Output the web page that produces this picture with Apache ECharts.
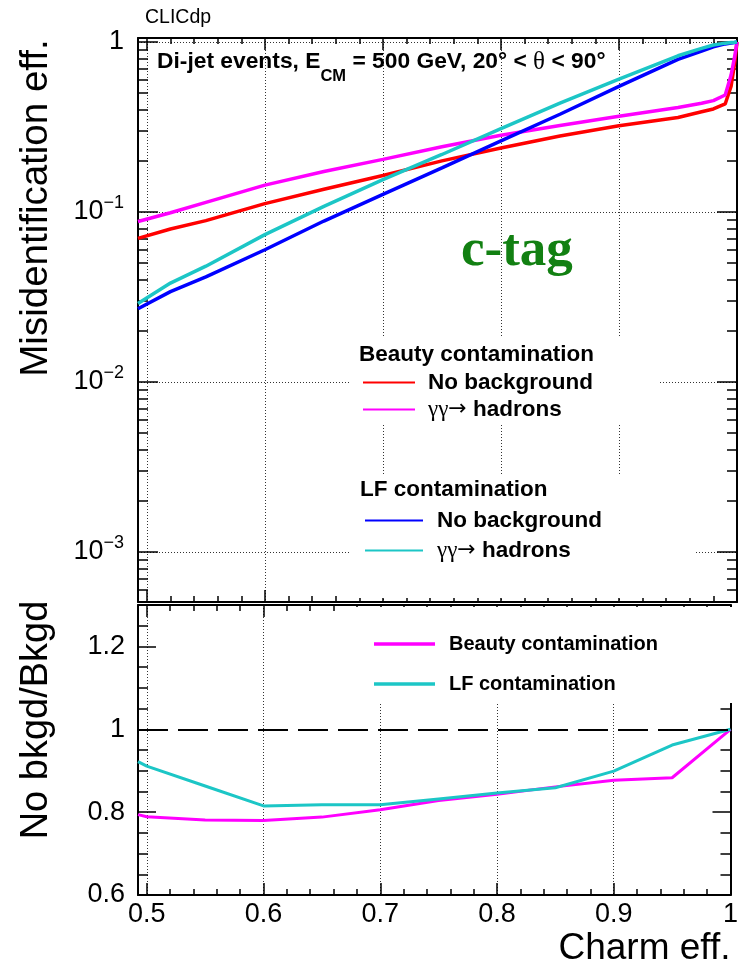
<!DOCTYPE html>
<html><head><meta charset="utf-8">
<script src="https://cdn.jsdelivr.net/npm/echarts@6/dist/echarts.min.js"></script>
<style>html,body{margin:0;padding:0;background:#fff}#c{width:741px;height:967px}</style>
</head><body><div id="c"></div>
<script>
// ---- data ----
const effX = [0.4925, 0.52, 0.55, 0.6, 0.65, 0.7, 0.75, 0.8, 0.85, 0.9, 0.95, 0.97, 0.98, 0.99, 0.995, 0.998, 1.0];
const beautyNoBkg = [0.070, 0.0794, 0.089, 0.112, 0.136, 0.164, 0.200, 0.238, 0.280, 0.322, 0.360, 0.389, 0.404, 0.432, 0.55, 0.75, 1.0];
const beautyGG    = [0.088, 0.099, 0.114, 0.144, 0.173, 0.204, 0.242, 0.283, 0.323, 0.366, 0.412, 0.436, 0.452, 0.488, 0.64, 0.82, 1.0];
const lfNoBkg     = [0.027, 0.034, 0.0415, 0.060, 0.0885, 0.127, 0.182, 0.262, 0.376, 0.548, 0.79, 0.885, 0.938, 0.975, 0.985, 0.993, 1.0];
const lfGG        = [0.029, 0.0382, 0.048, 0.0736, 0.108, 0.155, 0.218, 0.309, 0.437, 0.605, 0.83, 0.918, 0.96, 0.985, 0.992, 0.996, 1.0];
const ratioX      = [0.4925, 0.5, 0.55, 0.6, 0.65, 0.7, 0.75, 0.8, 0.85, 0.9, 0.95, 1.0];
const ratioBeauty = [0.794, 0.789, 0.781, 0.780, 0.788, 0.806, 0.828, 0.843, 0.861, 0.877, 0.883, 1.0];
const ratioLF     = [0.922, 0.911, 0.863, 0.815, 0.818, 0.818, 0.832, 0.846, 0.859, 0.899, 0.962, 1.0];
const logMajorTicks = [0.001, 0.01, 0.1, 1];
const logMinorTicks = [];
for (let e = -4; e <= -1; e++) for (let k = 2; k <= 9; k++) logMinorTicks.push(+(k * Math.pow(10, e)).toPrecision(3));

const names = {
  bNo: 'Beauty: No background', bGG: 'Beauty: γγ→ hadrons',
  lNo: 'LF: No background', lGG: 'LF: γγ→ hadrons',
  rB: 'Beauty contamination', rL: 'LF contamination'
};
const legendText = {};
legendText[names.bNo] = '{n|No background}';
legendText[names.lNo] = '{n|No background}';
legendText[names.bGG] = '{g|γγ}{a|→}{n| hadrons}';
legendText[names.lGG] = '{g|γγ}{a|→}{n| hadrons}';

const F = 'Liberation Sans, Arimo, Helvetica, Arial, sans-serif';
const SERIF = 'Liberation Serif, Times New Roman, serif';
const pair = (xs, ys) => xs.map((x, i) => [x, ys[i]]);
const black = '#000';
const gridLine = {show: true, lineStyle: {color: '#333', width: 1, type: [1, 2]}};
const axLine = {show: true, onZero: false, lineStyle: {color: black, width: 2}};
const tickStyle = {color: black, width: 1.5};
const XMIN = 0.4925, XMAX = 1.0, YMIN = 5.08e-4, YMAX = 1.056;

function xAx(grid, pos, labels, split, extra) {
  return Object.assign({
    type: 'value', gridIndex: grid, position: pos, min: XMIN, max: XMAX,
    axisLine: axLine,
    axisTick: {show: true, inside: true, length: 12, lineStyle: tickStyle},
    minorTick: {show: true, splitNumber: 5, length: 6, lineStyle: tickStyle},
    axisLabel: labels ? {show: true, showMinLabel: false, fontFamily: F, fontSize: 27, color: black, margin: 6} : {show: false},
    splitLine: split ? gridLine : {show: false}
  }, extra || {});
}
function logAx(pos, major, labels, extra) {
  return Object.assign({
    type: 'log', logBase: 10, gridIndex: 0, position: pos, min: YMIN, max: YMAX,
    axisLine: major ? axLine : {show: false},
    axisTick: {show: true, inside: true, length: major ? 20 : 10, lineStyle: tickStyle,
               customValues: major ? logMajorTicks : logMinorTicks},
    minorTick: {show: false},
    axisLabel: labels ? {
      show: true, customValues: logMajorTicks, margin: 14,
      formatter: function (v) {
        const e = Math.round(Math.log10(v));
        if (e === 0) return '{b|1}';
        return '{b|10}{s|−' + (-e) + '}';
      },
      rich: {
        b: {fontFamily: F, fontSize: 27, lineHeight: 36, color: black},
        s: {fontFamily: F, fontSize: 18, lineHeight: 18, verticalAlign: 'top', color: black}
      }
    } : {show: false},
    splitLine: (major && labels) ? gridLine : {show: false}
  }, extra || {});
}
const legendRich = {
  n: {fontFamily: F, fontWeight: 'bold', fontSize: 22.5, lineHeight: 24, color: black},
  g: {fontFamily: SERIF, fontWeight: 'normal', fontSize: 23, lineHeight: 24, color: black},
  a: {fontFamily: 'DejaVu Sans, sans-serif', fontWeight: 'normal', fontSize: 22, lineHeight: 24, color: black}
};

const option = {
  animation: false,
  backgroundColor: '#fff',
  grid: [
    {left: 138, top: 38, width: 599, height: 564},
    {left: 138, top: 605, width: 599, height: 292}
  ],
  title: [
    {text: 'CLICdp', left: 145, top: 8, padding: 0,
     textStyle: {fontFamily: F, fontSize: 19.5, fontWeight: 'normal', color: black}},
    {text: '{t|Di-jet events, E}{sub|CM}{t| = 500 GeV, 20° < }{g|θ}{t| < 90°}', left: 157, top: 40, padding: 0,
     textStyle: {rich: {
       t: {fontFamily: F, fontWeight: 'bold', fontSize: 22.8, lineHeight: 44, color: black},
       sub: {fontFamily: F, fontWeight: 'bold', fontSize: 16.5, lineHeight: 16, padding: [28, 0, 0, 0], color: black},
       g: {fontFamily: SERIF, fontWeight: 'normal', fontSize: 25, lineHeight: 44, color: black}
     }}},
    {text: 'c-tag', left: 461, top: 225, padding: 0,
     textStyle: {fontFamily: SERIF, fontWeight: 'bold', fontSize: 53, color: '#128012'}}
  ],
  legend: [
    {data: [names.bNo, names.bGG], orient: 'vertical', left: 349, top: 338,
     padding: [33, 66, 4, 14], itemWidth: 52, itemHeight: 2, itemGap: 4, icon: 'rect',
     backgroundColor: '#fff', selectedMode: false,
     formatter: n => legendText[n],
     textStyle: {padding: [0, 0, 0, 8], rich: legendRich}},
    {data: [names.lNo, names.lGG], orient: 'vertical', left: 349, top: 474,
     padding: [35, 92, 36, 16], itemWidth: 58, itemHeight: 2, itemGap: 7, icon: 'rect',
     backgroundColor: '#fff', selectedMode: false,
     formatter: n => legendText[n],
     textStyle: {padding: [0, 0, 0, 9], rich: legendRich}},
    {data: [names.rB, names.rL], orient: 'vertical', left: 350, top: 607,
     padding: [26, 78, 8, 24], itemWidth: 61, itemHeight: 3.5, itemGap: 18, icon: 'rect',
     backgroundColor: '#fff', selectedMode: false,
     textStyle: {fontFamily: F, fontWeight: 'bold', fontSize: 20, lineHeight: 22, color: black, padding: [0, 0, 0, 9]}}
  ],
  graphic: [
    {type: 'text', left: 359, top: 343, z: 100,
     style: {text: 'Beauty contamination', fontFamily: F, fontWeight: 'bold', fontSize: 22.5, fill: black}},
    {type: 'text', left: 360, top: 478, z: 100,
     style: {text: 'LF contamination', fontFamily: F, fontWeight: 'bold', fontSize: 22.5, fill: black}}
  ],
  xAxis: [
    xAx(0, 'bottom', false, true),
    xAx(0, 'top', false, false),
    xAx(1, 'bottom', true, true, {
      name: 'Charm eff.', nameLocation: 'end', nameGap: 0,
      nameTextStyle: {fontFamily: F, fontSize: 37, color: black, align: 'right', verticalAlign: 'top', padding: [35, 0, 0, 0]}
    }),
    xAx(1, 'top', false, false)
  ],
  yAxis: [
    logAx('left', true, true, {
      name: 'Misidentification eff.', nameLocation: 'middle', nameRotate: 90, nameGap: 82,
      nameTextStyle: {fontFamily: F, fontSize: 38.5, color: black, padding: [0, 0, 0, 224]}
    }),
    logAx('left', false, false),
    logAx('right', true, false),
    logAx('right', false, false),
    {type: 'value', gridIndex: 1, position: 'left', min: 0.6, max: 1.3, interval: 0.2,
     axisLine: axLine,
     axisTick: {show: true, inside: true, length: 18, lineStyle: tickStyle},
     minorTick: {show: true, splitNumber: 4, length: 10, lineStyle: tickStyle},
     axisLabel: {show: true, showMaxLabel: false, fontFamily: F, fontSize: 27, color: black, margin: 13},
     splitLine: {show: false},
     name: 'No bkgd/Bkgd', nameLocation: 'middle', nameRotate: 90, nameGap: 82,
     nameTextStyle: {fontFamily: F, fontSize: 38, color: black, padding: [0, 0, 0, 60]}},
    {type: 'value', gridIndex: 1, position: 'right', min: 0.6, max: 1.3, interval: 0.2,
     axisLine: axLine,
     axisTick: {show: true, inside: true, length: 18, lineStyle: tickStyle},
     minorTick: {show: true, splitNumber: 4, length: 10, lineStyle: tickStyle},
     axisLabel: {show: false}, splitLine: {show: false}}
  ],
  series: [
    {name: names.bNo, type: 'line', xAxisIndex: 0, yAxisIndex: 0, data: pair(effX, beautyNoBkg),
     symbol: 'none', lineStyle: {color: '#ff0000', width: 3.5}, itemStyle: {color: '#ff0000'}},
    {name: names.bGG, type: 'line', xAxisIndex: 0, yAxisIndex: 0, data: pair(effX, beautyGG),
     symbol: 'none', lineStyle: {color: '#ff00ff', width: 3.5}, itemStyle: {color: '#ff00ff'}},
    {name: names.lNo, type: 'line', xAxisIndex: 0, yAxisIndex: 0, data: pair(effX, lfNoBkg),
     symbol: 'none', lineStyle: {color: '#0000ff', width: 3.5}, itemStyle: {color: '#0000ff'}},
    {name: names.lGG, type: 'line', xAxisIndex: 0, yAxisIndex: 0, data: pair(effX, lfGG),
     symbol: 'none', lineStyle: {color: '#1cc6c6', width: 3.5}, itemStyle: {color: '#1cc6c6'}},
    {name: names.rB, type: 'line', xAxisIndex: 2, yAxisIndex: 4, data: pair(ratioX, ratioBeauty),
     symbol: 'none', lineStyle: {color: '#ff00ff', width: 3}, itemStyle: {color: '#ff00ff'}},
    {name: names.rL, type: 'line', xAxisIndex: 2, yAxisIndex: 4, data: pair(ratioX, ratioLF),
     symbol: 'none', lineStyle: {color: '#1cc6c6', width: 3}, itemStyle: {color: '#1cc6c6'},
     markLine: {silent: true, symbol: ['none', 'none'], label: {show: false},
       lineStyle: {color: black, type: [30, 10], width: 2}, data: [{yAxis: 1}]}}
  ]
};
const chart = echarts.init(document.getElementById('c'), null, {renderer: 'canvas'});
chart.setOption(option);
</script>
</body></html>
